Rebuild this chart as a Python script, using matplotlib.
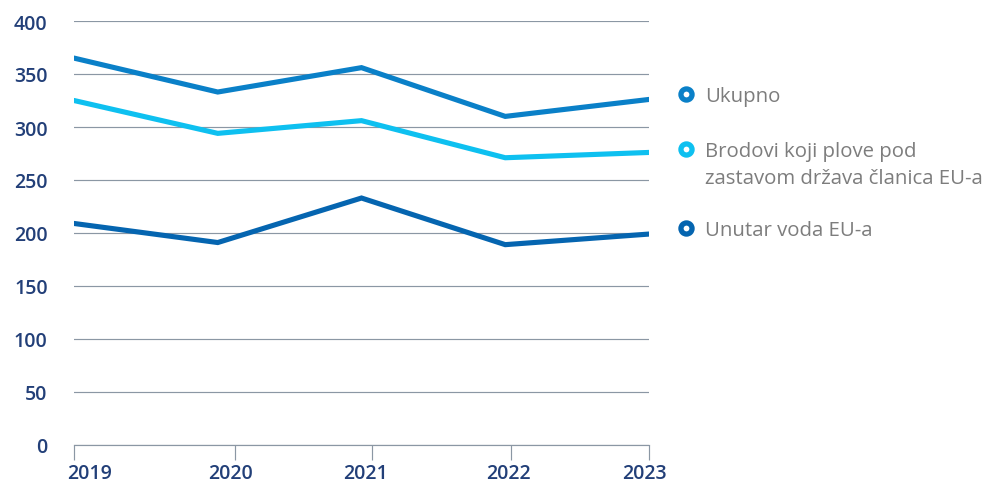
import matplotlib
matplotlib.use("Agg")
from matplotlib import pyplot as plt
from matplotlib.lines import Line2D

plt.rcParams['font.family'] = ['Open Sans', 'DejaVu Sans']

# Data
years = ['2019', '2020', '2021', '2022', '2023']
ukupno = [365, 333, 356, 310, 326]
brodovi_eu = [325, 294, 306, 271, 276]
unutar_eu = [209, 191, 233, 189, 199]
series_labels = ['Ukupno', 'Brodovi koji plove pod\nzastavom država članica EU-a', 'Unutar voda EU-a']
yticks = [0, 50, 100, 150, 200, 250, 300, 350, 400]
# year tick marks and their labels sit a little off the data points
year_tick_pos = [0, 1.12, 2.07, 3.04, 4.0]
year_label_pos = [0.105, 1.087, 2.03, 3.02, 3.965]

colors = ['#0a80c8', '#0ec0f0', '#0565b0']
grid_col = '#8b97a4'
navy = '#223f78'
label_gray = '#7d7d7d'

fig = plt.figure(figsize=(9.95, 4.85), dpi=100)
ax = fig.add_axes([74 / 995, 1 - 446 / 485, (649 - 74) / 995, (446 - 22) / 485])

x = list(range(len(years)))
for ys, c in zip([ukupno, brodovi_eu, unutar_eu], colors):
    ax.plot(x, ys, color=c, lw=3.7, solid_capstyle='round', solid_joinstyle='miter', zorder=3)

ax.set_ylim(0, 400)
ax.set_xlim(0, 4.0)
ax.set_yticks(yticks)
ax.set_yticklabels([str(v) for v in yticks])
ax.yaxis.grid(True, color=grid_col, lw=0.85)
ax.set_axisbelow(True)
ax.tick_params(axis='y', length=0, pad=19, labelsize=14, labelcolor=navy)

# major ticks: marks only; minor ticks: year labels
ax.set_xticks(year_tick_pos)
ax.set_xticklabels([''] * len(years))
ax.tick_params(axis='x', which='major', length=11, width=0.85, color=grid_col)
ax.set_xticks(year_label_pos, minor=True)
ax.set_xticklabels(years, minor=True)
ax.tick_params(axis='x', which='minor', length=0, pad=13, labelsize=14, labelcolor=navy)
for lab in ax.get_xticklabels(minor=True) + ax.get_yticklabels():
    lab.set_fontweight('semibold')

for side in ['top', 'right', 'left']:
    ax.spines[side].set_visible(False)
ax.spines['bottom'].set_color(grid_col)
ax.spines['bottom'].set_linewidth(0.85)

# Legend on the right, one text per line so the ring sits on the first line
legend_y = [95, 150, 229]
line_gap = 27
for lab, c, yp in zip(series_labels, colors, legend_y):
    fig.add_artist(Line2D([686 / 995], [1 - yp / 485], transform=fig.transFigure, marker='o', ls='none',
                          markersize=8, markerfacecolor='white', markeredgecolor=c, markeredgewidth=3.8))
    for i, part in enumerate(lab.split('\n')):
        base = yp + 7 + i * line_gap
        fig.text(705 / 995, 1 - base / 485, part, ha='left', va='baseline', fontsize=14.7,
                 color=label_gray)

fig.savefig('out.png', dpi=100)
